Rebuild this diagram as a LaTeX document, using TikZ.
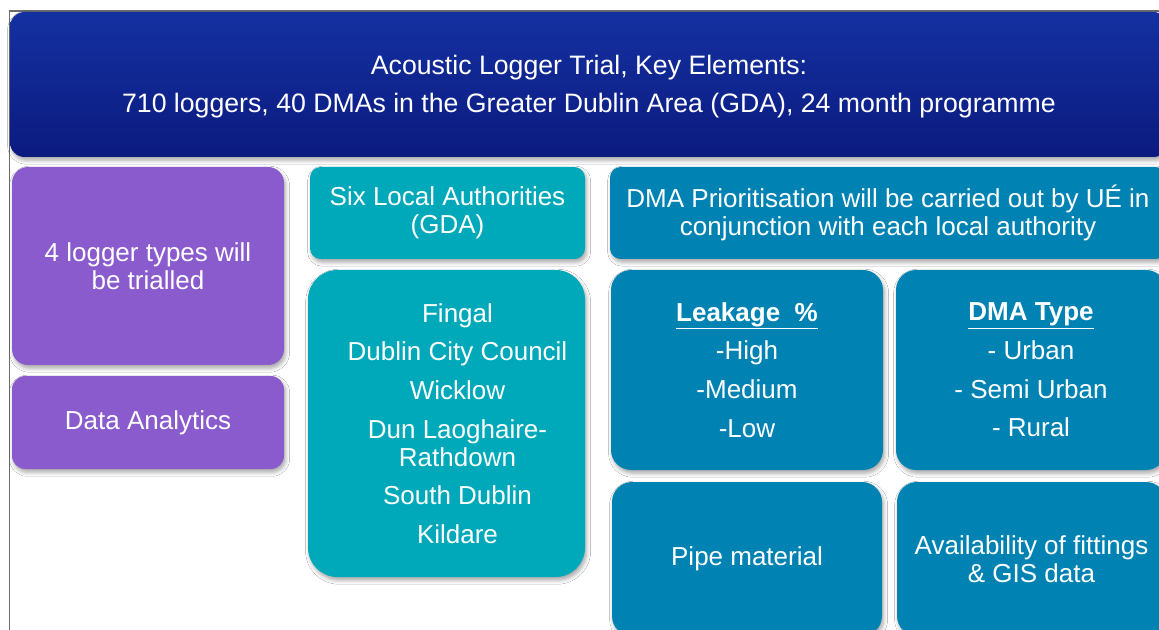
\documentclass[tikz,border=0pt]{standalone}
\usepackage{fontspec}
\setmainfont{Liberation Sans}
\usetikzlibrary{shadows.blur}

\definecolor{cBannerTop}{HTML}{1431A1}
\definecolor{cBannerBot}{HTML}{0B1A7F}
\definecolor{cLilac}{HTML}{8A5BCD}
\definecolor{cTeal}{HTML}{00A9B9}
\definecolor{cDma}{HTML}{0083B3}

\tikzset{
  card/.style={rounded corners=#1, inner sep=0pt, text=white, align=center,
    font=\fontsize{19.5}{21}\selectfont,
    blur shadow={shadow xshift=1.2pt, shadow yshift=-2.4pt,
      shadow blur radius=3pt, shadow opacity=35}},
  card/.default=8pt,
  cardtext/.style={text=white, align=center, font=\fontsize{19.5}{21}\selectfont}
}

\begin{document}
\begin{tikzpicture}[x=0.75pt,y=-0.75pt]
        \useasboundingbox (0,0) rectangle (1159,630);
        \clip (0,0) rectangle (1159,630);
        \fill[white] (0,0) rectangle (1159,630);

        % frame
        \draw[gray!85!black, line width=0.9pt] (9.5,640) -- (9.5,11) -- (1170,11);

        % header
        \node[card=11pt, top color=cBannerTop, bottom color=cBannerBot,
              minimum width=868.5pt, minimum height=108.75pt] (header) at (589,84.5) {};
        \node[cardtext, font=\fontsize{20}{21.5}\selectfont] (headerText) at ([yshift=-1.5pt]header.center)
              {Acoustic Logger Trial, Key Elements:\\[7pt]710 loggers, 40 DMAs in the Greater Dublin Area (GDA), 24 month programme};

        % left column
        \node[card=12pt, fill=cLilac, minimum width=204pt, minimum height=148.5pt] (loggers) at (148,266)
              {4 logger types will\\be trialled};
        \node[card=10pt, fill=cLilac, minimum width=204pt, minimum height=69.75pt] (analytics) at (148,422.5)
              {Data Analytics};

        % local authorities
        \node[card, fill=cTeal, minimum width=206.25pt, minimum height=69pt] (sixLA) at (447.5,213)
              {Six Local Authorities\\(GDA)};
        \node[card=22pt, fill=cTeal, minimum width=207.75pt, minimum height=230.25pt] (councils) at (446.5,423.5) {};
        \node[cardtext] (councilList) at ([xshift=8.25pt]councils.center)
              {Fingal\\[8pt]Dublin City Council\\[8pt]Wicklow\\[8pt]Dun Laoghaire-\\Rathdown\\[8pt]South Dublin\\[8pt]Kildare};

        % DMA prioritisation
        \node[card, fill=cDma, minimum width=417pt, minimum height=69pt] (prio) at (888,213)
              {DMA Prioritisation will be carried out by UÉ in\\conjunction with each local authority};
        \node[card=15pt, fill=cDma, minimum width=204pt, minimum height=150pt] (leakage) at (747,370)
              {\underline{\textbf{Leakage\ \ \%}}\\[8pt]-High\\[8pt]-Medium\\[8pt]-Low};
        \node[card=15pt, fill=cDma, minimum width=202.5pt, minimum height=150pt] (dmaType) at (1031,370)
              {\underline{\textbf{DMA Type}}\\[8pt]- Urban\\[8pt]- Semi Urban\\[8pt]- Rural};
        \node[card=15pt, fill=cDma, minimum width=202.5pt, minimum height=115.5pt] (pipe) at (747,559)
              {Pipe material};
        \node[card=15pt, fill=cDma, minimum width=201.75pt, minimum height=115.5pt] (fittings) at (1031.5,559)
              {Availability of fittings\\\& GIS data};
    \end{tikzpicture}
\end{document}
